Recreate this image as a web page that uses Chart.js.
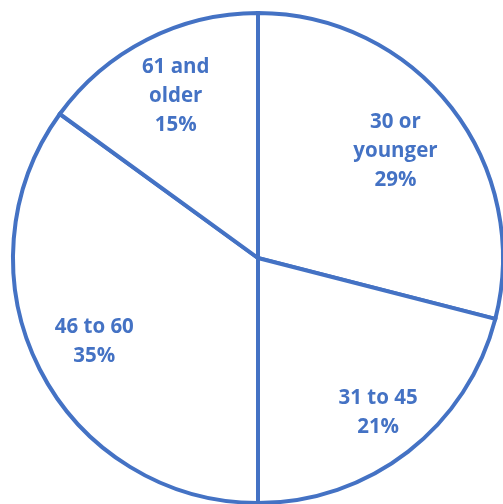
<!DOCTYPE html>
<html>
<head>
<meta charset="utf-8">
<script src="https://cdn.jsdelivr.net/npm/chart.js@4/dist/chart.umd.min.js"></script>
<style>
  html, body { margin: 0; padding: 0; background: #ffffff; }
  #wrap { width: 503px; height: 504px; overflow: hidden; position: relative; }
  #chart { position: absolute; left: 0; top: 0; }
</style>
</head>
<body>
<div id="wrap"><canvas id="chart" width="520" height="520"></canvas></div>
<script>
// Age groups (each entry holds the wrapped lines of its label) and their shares in percent
const categories = [["30 or", "younger"], ["31 to 45"], ["46 to 60"], ["61 and", "older"]];
const shares = [29, 21, 35, 15];

// How far out from the centre each label sits, as a fraction of the radius
const labelRadius = [0.71, 0.80, 0.75, 0.74];

const BLUE = '#4472C4';

const sliceLabels = {
  id: 'sliceLabels',
  afterDatasetsDraw(chart) {
    const ctx = chart.ctx;
    const meta = chart.getDatasetMeta(0);
    ctx.save();
    ctx.fillStyle = BLUE;
    ctx.font = 'bold 20.5px "Open Sans", sans-serif';
    ctx.textAlign = 'center';
    ctx.textBaseline = 'middle';
    const lineH = 29;
    meta.data.forEach((arc, i) => {
      const p = arc.getProps(['x', 'y', 'startAngle', 'endAngle', 'outerRadius'], true);
      const mid = (p.startAngle + p.endAngle) / 2;
      const r = p.outerRadius * labelRadius[i];
      const cx = p.x + Math.cos(mid) * r;
      const cy = p.y + Math.sin(mid) * r;
      const lines = categories[i].concat([shares[i] + '%']);
      const y0 = cy - (lines.length - 1) * lineH / 2;
      lines.forEach((t, k) => ctx.fillText(t, cx, y0 + k * lineH));
    });
    ctx.restore();
  }
};

new Chart(document.getElementById('chart'), {
  type: 'pie',
  data: {
    labels: categories.map(l => l.join(' ')),
    datasets: [{
      data: shares,
      backgroundColor: '#ffffff',
      borderColor: BLUE,
      borderWidth: 4,
      borderJoinStyle: 'miter'
    }]
  },
  options: {
    responsive: false,
    animation: false,
    events: [],
    layout: { padding: { left: 11, top: 11, right: 15, bottom: 15 } },
    plugins: {
      legend: { display: false },
      tooltip: { enabled: false }
    }
  },
  plugins: [sliceLabels]
});
</script>
</body>
</html>
